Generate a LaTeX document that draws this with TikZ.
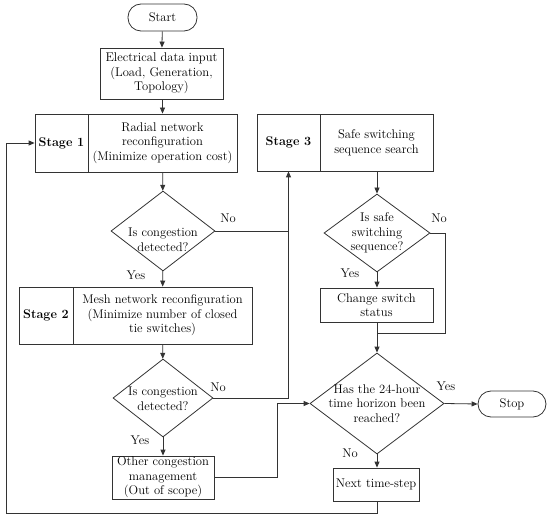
\documentclass[tikz,border=0pt]{standalone}
\usetikzlibrary{shapes.geometric,arrows.meta}
\begin{document}
\begin{tikzpicture}[x=1pt,y=-1pt,
  every node/.style={font=\fontsize{12.6}{14.6}\selectfont, text=black},
  ln/.style={draw=black!80, line width=0.8pt},
  arr/.style={ln, -{Triangle[length=6pt,width=5pt]}},
  box/.style={ln, rectangle, inner sep=0pt, align=center},
  term/.style={ln, rectangle, rounded corners=13pt, inner sep=0pt},
  dia/.style={ln, diamond, inner sep=0pt},
  txt/.style={align=center, inner sep=0pt},
  lbl/.style={inner sep=0pt}
]
\useasboundingbox (0,0) rectangle (550,519);

% nodes
\node[term, minimum width=69pt, minimum height=27pt] (start) at (162.5,17.5) {Start};
\node[box, minimum width=123pt, minimum height=51pt] (data) at (161.5,73.5) {Electrical data input\\(Load, Generation,\\Topology)};

\node[box, minimum width=53pt, minimum height=58pt] (s1l) at (61.5,143) {\textbf{Stage 1}};
\node[box, minimum width=149pt, minimum height=58pt] (s1r) at (162.5,143) {Radial network\\reconfiguration\\(Minimize operation cost)};

\node[dia, minimum width=104pt, minimum height=80pt] (d1) at (163,231) {};
\node[txt] (d1t) at (163,240) {Is congestion\\detected?};

\node[box, minimum width=54pt, minimum height=57pt] (s2l) at (46,315.5) {\textbf{Stage 2}};
\node[box, minimum width=179pt, minimum height=57pt] (s2r) at (162.5,315.5) {Mesh network reconfiguration\\(Minimize number of closed\\tie switches)};

\node[dia, minimum width=100pt, minimum height=78pt] (d4) at (163,398) {};
\node[txt] (d4t) at (163,399) {Is congestion\\detected?};

\node[box, minimum width=102pt, minimum height=43pt] (oth) at (163,477.5) {Other congestion\\management\\(Out of scope)};

\node[box, minimum width=63pt, minimum height=57pt] (s3l) at (288.5,142.5) {\textbf{Stage 3}};
\node[box, minimum width=113pt, minimum height=57pt] (s3r) at (376.5,142.5) {Safe switching\\sequence search};

\node[dia, minimum width=106pt, minimum height=78pt] (d2) at (377,233) {};
\node[txt] (d2t) at (377,233) {Is safe\\switching\\sequence?};

\node[box, minimum width=113pt, minimum height=34pt] (chg) at (376.5,305) {Change switch\\status};

\node[dia, minimum width=134pt, minimum height=101pt] (d3) at (377,403.5) {};
\node[txt] (d3t) at (377,403.5) {Has the 24-hour\\time horizon been\\reached?};

\node[term, minimum width=68pt, minimum height=26pt] (stop) at (512,404) {Stop};
\node[box, minimum width=86pt, minimum height=33pt] (next) at (376,484.5) {Next time-step};

% helper coordinates
\coordinate (j1) at (377,333);
\coordinate (k1) at (277,477.5);
\coordinate (b1) at (377,513);
\coordinate (b2) at (6,513);
\coordinate (n2) at (445,233);

% connectors
\draw[arr] (start) -- (data);
\draw[arr] (data.south -| s1r.south) -- (s1r.north);
\draw[arr] (s1r) -- (d1);
\draw[arr] (d1) -- (s2r);
\draw[arr] (s2r) -- (d4);
\draw[arr] (d4) -- (oth);
\draw[ln] (d1.east) -- (d1.east -| s3l.south);
\draw[arr] (d4.east) -| (s3l.south);
\draw[arr] (oth.east) -- (k1) |- (d3.west);
\draw[arr] (s3r.south -| d2.north) -- (d2.north);
\draw[arr] (d2.south) -- (chg.north -| d2.south);
\draw[ln] (chg.south -| j1) -- (j1);
\draw[ln] (d2.east) -- (n2) |- (j1);
\draw[arr] (j1) -- (d3.north);
\draw[arr] (d3.east) -- (stop.west);
\draw[arr] (d3.south) -- (next.north -| d3.south);
\draw[arr] (next.south -| b1) -- (b1) -- (b2) |- (s1l.west);

% labels
\node[lbl] (l1) at (228,218) {No};
\node[lbl] (l2) at (136,275) {Yes};
\node[lbl] (l3) at (218,387) {No};
\node[lbl] (l4) at (140,440) {Yes};
\node[lbl] (l5) at (439,218) {No};
\node[lbl] (l6) at (350,273) {Yes};
\node[lbl] (l7) at (446,386) {Yes};
\node[lbl] (l8) at (350,453) {No};
\end{tikzpicture}
\end{document}
